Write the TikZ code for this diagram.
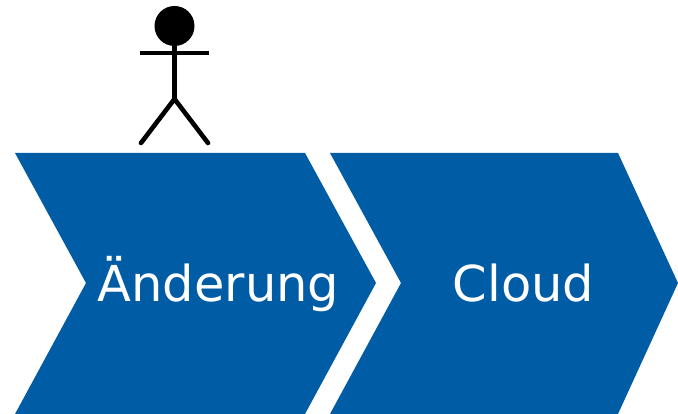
\documentclass[tikz,border=0pt]{standalone}
\usepackage{fontspec}
\setmainfont{DejaVu Sans}
\definecolor{chev}{HTML}{005DA5}
\tikzset{
  chevshape/.style={fill=chev,draw=none},
  lab/.style={text=white,font=\fontsize{49.5}{54}\selectfont,inner sep=0pt,anchor=base},
  fig/.style={line width=4.6pt,draw=black}
}
\begin{document}
\begin{tikzpicture}[x=1pt,y=-1pt]
\useasboundingbox (0,0) rectangle (678,414);
\fill[chevshape] (15,153) -- (305,153) -- (376,283) -- (305,414) -- (15,414) -- (86,283) -- cycle;
\fill[chevshape] (330,153) -- (618,153) -- (678,283) -- (618,414) -- (330,414) -- (401,283) -- cycle;
\node[lab] (a) at (218.5,302) {Änderung};
\node[lab] (b) at (523.5,302) {Cloud};
\fill (174.5,26) circle (20);
\draw[fig] (174.5,26) -- (174.5,99);
\draw[fig] (140,53) -- (209,53);
\draw[fig,line cap=round] (141,143) -- (174.5,99) -- (208,143);
\end{tikzpicture}
\end{document}
